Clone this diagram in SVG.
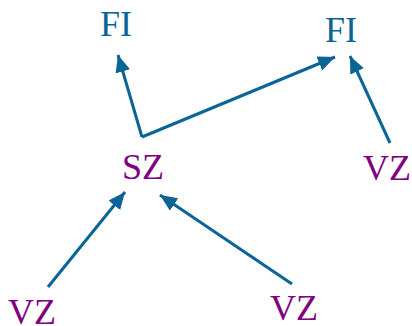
<svg xmlns="http://www.w3.org/2000/svg" width="412" height="326" viewBox="0 0 412 326">
<style>
.fi{font-family:"Liberation Serif",serif;font-size:36px;fill:#0a6596}
.vz{font-family:"Liberation Serif",serif;font-size:36px;fill:#800080}
.e{stroke:#0a6596;stroke-width:3;fill:none;marker-end:url(#ah)}
</style>
<defs>
<marker id="ah" markerUnits="userSpaceOnUse" markerWidth="19" markerHeight="17" refX="17" refY="7.5" orient="auto">
<path d="M0,0 L17,7.5 L0,15 z" fill="#0a6596"/>
</marker>
</defs>
<rect width="412" height="326" fill="#fff"/>
<g id="connectors">
<line class="e" x1="142" y1="137" x2="118" y2="55"/>
<line class="e" x1="142" y1="137" x2="335" y2="57"/>
<line class="e" x1="390" y1="143" x2="350" y2="56"/>
<line class="e" x1="48" y1="287" x2="125" y2="192"/>
<line class="e" x1="292" y1="284" x2="160" y2="195"/>
</g>
<g id="fi1"><text class="fi" x="100" y="36">FI</text></g>
<g id="fi2"><text class="fi" x="325" y="42">FI</text></g>
<g id="sz"><text class="vz" x="122" y="179">SZ</text></g>
<g id="vz1"><text class="vz" x="363" y="180">VZ</text></g>
<g id="vz2"><text class="vz" x="8" y="324">VZ</text></g>
<g id="vz3"><text class="vz" x="270" y="320">VZ</text></g>
</svg>
